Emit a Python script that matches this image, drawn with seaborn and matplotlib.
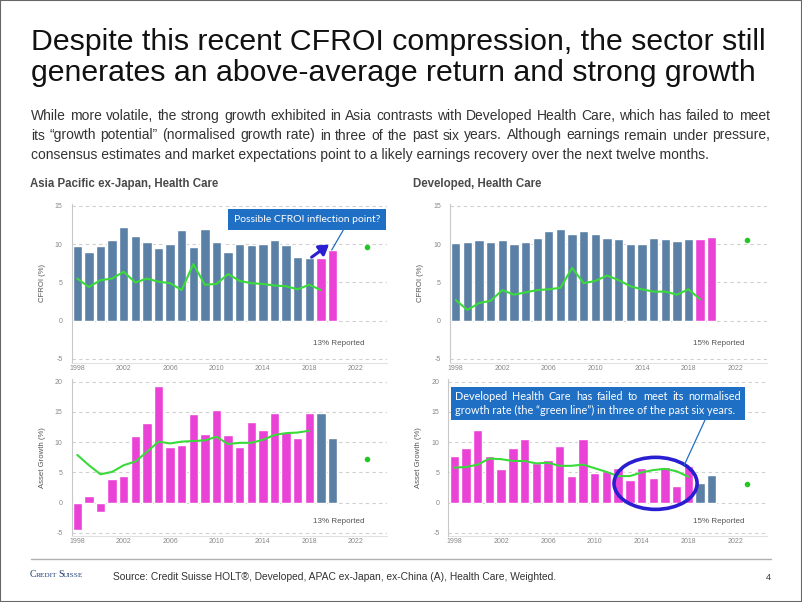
import numpy as np
import pandas as pd
import matplotlib
matplotlib.use('Agg')
import matplotlib.pyplot as plt
import seaborn as sns
from matplotlib.patches import Rectangle, Ellipse
from matplotlib.lines import Line2D


years = list(range(1998, 2021))
line_years_top = list(range(1998, 2020))
line_years_bot = list(range(1998, 2019))
dot_year = 2023

# CFROI (%)
apac_cfroi = [9.8, 9.0, 9.8, 10.5, 12.2, 11.1, 10.3, 9.5, 10.0, 11.8, 9.6, 12.0,
              10.3, 9.0, 10.0, 9.9, 10.0, 10.5, 9.9, 8.3, 8.2, 8.2, 9.2]
apac_cfroi_line = [5.5, 4.4, 5.3, 5.5, 6.4, 5.0, 5.5, 5.1, 4.9, 4.0, 7.4, 4.7,
                   4.8, 6.1, 5.2, 4.9, 4.8, 4.6, 4.5, 4.1, 4.7, 4.0]
apac_cfroi_dot = 9.7

dev_cfroi = [10.1, 10.3, 10.6, 10.3, 10.5, 10.0, 10.3, 10.8, 11.7, 12.0, 11.4, 11.7,
             11.3, 10.8, 10.7, 10.0, 10.0, 10.8, 10.7, 10.4, 10.7, 10.7, 11.0]
dev_cfroi_line = [2.7, 1.4, 2.3, 2.6, 4.0, 3.4, 3.7, 4.0, 4.1, 4.3, 6.9, 4.9,
                  5.2, 5.9, 5.3, 4.5, 4.1, 3.8, 3.8, 3.4, 4.1, 2.8]
dev_cfroi_dot = 10.6

# Asset growth (%)
apac_growth = [-4.5, 1.1, -1.6, 3.9, 4.4, 11.0, 13.2, 19.3, 9.2, 9.6, 14.7, 11.4,
               15.4, 11.2, 9.2, 13.3, 12.0, 14.8, 11.7, 10.7, 14.9, 14.8, 10.7]
apac_growth_line = [7.9, 6.2, 4.7, 5.1, 6.2, 6.8, 8.4, 10.1, 9.8, 10.1, 10.2,
                    10.3, 10.9, 9.7, 9.9, 9.9, 10.4, 11.2, 11.5, 11.6, 11.9]
apac_growth_dot = 7.3

dev_growth = [7.7, 9.1, 12.1, 7.8, 5.5, 9.1, 10.5, 6.5, 7.1, 9.3, 4.4, 10.5,
              4.9, 5.2, 5.8, 3.7, 5.8, 4.1, 5.9, 2.8, 6.0, 3.3, 4.5]
dev_growth_line = [5.8, 5.9, 6.3, 7.3, 7.2, 6.9, 6.9, 6.5, 6.6, 6.1, 6.1, 6.3,
                   5.7, 5.1, 4.4, 4.4, 5.0, 5.4, 5.6, 5.2, 4.3]
dev_growth_dot = 3.1

kinds = ['hist'] * 21 + ['fcst'] * 2

BLUE = '#5b80a6'
PINK = '#ea42d6'
GREEN = '#3ada3a'
DOT = '#22c822'
W, H = 802, 602

sns.set_style('white')
plt.rcParams['font.family'] = ['Liberation Sans', 'DejaVu Sans']


def box(x0, y0, x1, y1):
    return [x0 / W, 1 - y1 / H, (x1 - x0) / W, (y1 - y0) / H]


def draw_panel(ax, vals, palette, line_years, line_vals, dot, ylim, yticks, ylabel,
               reported, rep_y):
    df = pd.DataFrame({'year': years, 'value': vals, 'kind': kinds})
    sns.barplot(data=df, x='year', y='value', hue='kind', palette=palette,
                native_scale=True, dodge=False, width=0.8, errorbar=None,
                legend=False, saturation=1, ax=ax)
    sns.lineplot(x=line_years, y=line_vals, color=GREEN, lw=1.5, ax=ax)
    ax.scatter([dot_year], [dot], s=16, color=DOT, zorder=5, linewidths=0)
    ax.set_xlim(1997.5, 2024.7)
    ax.set_ylim(*ylim)
    ax.set_yticks(yticks)
    ax.set_yticklabels([str(t) for t in yticks])
    ax.set_xticks(range(1998, 2023, 4))
    ax.set_xticklabels([str(t) for t in range(1998, 2023, 4)])
    ax.set_xticks(range(2000, 2025, 4), minor=True)
    ax.tick_params(axis='both', which='major', length=0, labelsize=5, labelcolor='#888888')
    ax.tick_params(axis='y', pad=6.5)
    ax.tick_params(axis='x', pad=1.5)
    ax.tick_params(axis='x', which='minor', length=4, color='#d0d0d0', direction='inout')
    ax.yaxis.grid(True, linestyle=(0, (3, 3)), color='#cfcfcf', lw=0.8)
    ax.set_axisbelow(True)
    ax.set_xlabel('')
    ax.set_ylabel(ylabel, fontsize=5.6, color='#555555')
    ax.yaxis.set_label_coords(-0.082, 0.5)
    for s in ['top', 'right']:
        ax.spines[s].set_visible(False)
    ax.spines['left'].set_color('#c8c8c8')
    ax.spines['bottom'].set_color('#e2e2e2')
    ax.text(0.93, rep_y, reported, transform=ax.transAxes, ha='right', va='center',
            fontsize=5.8, color='#555555')


fig = plt.figure(figsize=(W / 100, H / 100), dpi=100)
renderer = fig.canvas.get_renderer()


def justify(x0, x1, y, text, **kw):
    words = text.split(' ')
    widths = []
    for w in words:
        t = fig.text(0, 0, w, **kw)
        widths.append(t.get_window_extent(renderer).width)
        t.remove()
    gap = ((x1 - x0) - sum(widths)) / (len(words) - 1)
    x = x0
    for w, wd in zip(words, widths):
        fig.text(x / W, 1 - y / H, w, ha='left', va='center', **kw)
        x += wd + gap


ax_tl = fig.add_axes(box(71.5, 203.7, 387, 362.7))
ax_tr = fig.add_axes(box(449.9, 203.7, 766.5, 362.7))
ax_bl = fig.add_axes(box(71.5, 378.7, 387, 536.0))
ax_br = fig.add_axes(box(448.5, 378.7, 766.7, 536.0))

top_pal = {'hist': BLUE, 'fcst': PINK}
bot_pal = {'hist': PINK, 'fcst': BLUE}

draw_panel(ax_tl, apac_cfroi, top_pal, line_years_top, apac_cfroi_line, apac_cfroi_dot,
           (-5.5, 15.3), [-5, 0, 5, 10, 15], 'CFROI (%)', '13% Reported', 0.118)
draw_panel(ax_tr, dev_cfroi, top_pal, line_years_top, dev_cfroi_line, dev_cfroi_dot,
           (-5.5, 15.3), [-5, 0, 5, 10, 15], 'CFROI (%)', '15% Reported', 0.118)
draw_panel(ax_bl, apac_growth, bot_pal, line_years_bot, apac_growth_line, apac_growth_dot,
           (-5.5, 20.5), [-5, 0, 5, 10, 15, 20], 'Asset Growth (%)', '13% Reported', 0.095)
draw_panel(ax_br, dev_growth, bot_pal, line_years_bot, dev_growth_line, dev_growth_dot,
           (-5.5, 20.5), [-5, 0, 5, 10, 15, 20], 'Asset Growth (%)', '15% Reported', 0.095)

# slide frame
fig.add_artist(Rectangle((0, 0), 1, 1, transform=fig.transFigure, fill=False,
                         ec='#666666', lw=1.5))

# title and intro text
fig.text(31 / W, 1 - 42 / H, 'Despite this recent CFROI compression, the sector still',
         fontsize=21.8, color='#111111', va='center', ha='left')
fig.text(31 / W, 1 - 73 / H, 'generates an above-average return and strong growth',
         fontsize=21.8, color='#111111', va='center', ha='left')
intro_kw = dict(fontsize=10.0, color='#333333')
justify(31, 770, 116,
        'While more volatile, the strong growth exhibited in Asia contrasts with Developed Health Care, which has failed to meet',
        **intro_kw)
justify(31, 770, 135.5,
        'its \u201cgrowth potential\u201d (normalised growth rate) in three of the past six years. Although earnings remain under pressure,',
        **intro_kw)
fig.text(31 / W, 1 - 155 / H,
         'consensus estimates and market expectations point to a likely earnings recovery over the next twelve months.',
         va='center', ha='left', **intro_kw)

fig.text(30 / W, 1 - 184 / H, 'Asia Pacific ex-Japan, Health Care', fontsize=8.3,
         fontweight='bold', color='#4a4a4a', va='center')
fig.text(413 / W, 1 - 184 / H, 'Developed, Health Care', fontsize=8.3,
         fontweight='bold', color='#4a4a4a', va='center')

# callout, top-left panel
fig.add_artist(Rectangle((227.7 / W, 1 - 230 / H), (386 - 227.7) / W, 21 / H,
                         transform=fig.transFigure, fc='#1f6fc4', ec='none', zorder=10))
fig.text(307 / W, 1 - 219.5 / H, 'Possible CFROI inflection point?', fontsize=7.5,
         family=['Lato', 'DejaVu Sans'], color='white', ha='center', va='center', zorder=11)
fig.add_artist(Line2D([343.3 / W, 331.7 / W], [1 - 230 / H, 1 - 250 / H],
                      transform=fig.transFigure, color='#1f6fc4', lw=0.9))
ax_tl.annotate('', xy=(2019.7, 9.95), xytext=(2018.2, 8.3),
               arrowprops=dict(arrowstyle='-|>,head_length=0.7,head_width=0.45',
                               mutation_scale=8, color='#2a1fd0', lw=2.2,
                               shrinkA=0, shrinkB=0))

# callout, bottom-right panel
fig.add_artist(Rectangle((450.7 / W, 1 - 420 / H), (745 - 450.7) / W, 33.3 / H,
                         transform=fig.transFigure, fc='#1f6fc4', ec='none', zorder=10))
box_kw = dict(fontsize=7.8, family=['Lato', 'DejaVu Sans'], color='white', zorder=11)
justify(455, 741, 396, 'Developed Health Care has failed to meet its normalised', **box_kw)
fig.text(455 / W, 1 - 410.5 / H,
         'growth rate (the \u201cgreen line\u201d) in three of the past six years.',
         ha='left', va='center', **box_kw)
fig.add_artist(Line2D([705 / W, 684.3 / W], [1 - 420 / H, 1 - 465 / H],
                      transform=fig.transFigure, color='#1f6fc4', lw=0.9))
ax_br.add_patch(Ellipse((2015.2, 3.2), 7.1, 8.6, fill=False, ec='#2a1fd0', lw=2.6, zorder=6))

# footer
fig.add_artist(Line2D([31 / W, 771 / W], [1 - 559 / H, 1 - 559 / H],
                      transform=fig.transFigure, color='#b0b0b0', lw=1))
fig.text(30 / W, 1 - 577 / H, 'C', fontsize=7, color='#1d3f74',
         family=['Liberation Serif', 'DejaVu Serif'], va='baseline')
fig.text(35.5 / W, 1 - 577 / H, 'REDIT', fontsize=5.2, color='#1d3f74',
         family=['Liberation Serif', 'DejaVu Serif'], va='baseline')
fig.text(58 / W, 1 - 577 / H, 'S', fontsize=7, color='#1d3f74',
         family=['Liberation Serif', 'DejaVu Serif'], va='baseline')
fig.text(62.5 / W, 1 - 577 / H, 'UISSE', fontsize=5.2, color='#1d3f74',
         family=['Liberation Serif', 'DejaVu Serif'], va='baseline')
fig.text(113 / W, 1 - 577 / H,
         'Source: Credit Suisse HOLT\u00ae, Developed, APAC ex-Japan, ex-China (A), Health Care, Weighted.',
         fontsize=7.4, color='#333333', va='center')
fig.text(771 / W, 1 - 578 / H, '4', fontsize=6.5, color='#333333', va='center', ha='right')

fig.savefig('out.png', dpi=100)
